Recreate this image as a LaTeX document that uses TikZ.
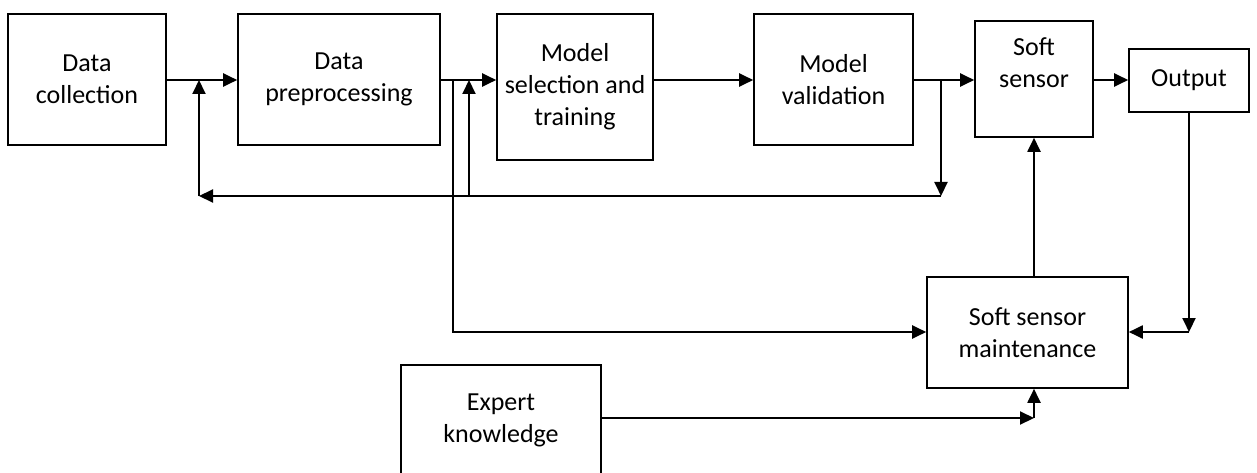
\documentclass[tikz,border=0pt]{standalone}
\usepackage{fontspec}
\setmainfont{Carlito}
\usetikzlibrary{arrows.meta}
\begin{document}
\begin{tikzpicture}[x=1pt,y=1pt,
  block/.style={draw, line width=1.6pt, align=center, inner sep=0pt,
    font=\fontsize{26}{32}\selectfont},
  link/.style={line width=2pt},
  arr/.style={link, -{Triangle[length=14pt,width=13pt]}}]
\useasboundingbox (0,0) rectangle (1257,-473);
\clip (0,0) rectangle (1257,-473);

% process chain
\node[block, minimum width=158, minimum height=131] (dc) at (87,-79.5) {Data\\collection};
\node[block, minimum width=202, minimum height=131] (dp) at (339,-79.5) {Data\\preprocessing};
\node[block, minimum width=156, minimum height=146] (ms) at (575,-87) {Model\\selection and\\training};
\node[block, minimum width=159, minimum height=131] (mv) at (833.5,-79.5) {Model\\validation};
\node[block, minimum width=118, minimum height=116] (ss) at (1034,-79) {Soft\\sensor\\\mbox{}};
\node[block, minimum width=120, minimum height=63] (out) at (1189,-80.5) {Output};
\node[block, minimum width=201, minimum height=111] (ssm) at (1027.5,-332.5) {Soft sensor\\maintenance};
\node[block, minimum width=200, minimum height=111] (ek) at (501,-420.5) {Expert\\knowledge};

% junction points of the feedback loops
\coordinate (f1) at (199,-80);
\coordinate (f1b) at (199,-196);
\coordinate (f2) at (469,-80);
\coordinate (f2b) at (469,-196);
\coordinate (f3) at (941,-80);
\coordinate (f3b) at (941,-196);
\coordinate (t1) at (453,-80);
\coordinate (t1b) at (453,-332);
\coordinate (o1) at (1189,-332);

% forward path
\draw[arr] (dc.east |- f1) -- (dp.west |- f1);
\draw[arr] (dp.east |- f1) -- (ms.west |- f1);
\draw[arr] (ms.east |- f1) -- (mv.west |- f1);
\draw[arr] (mv.east |- f1) -- (ss.west |- f1);
\draw[arr] (ss.east |- f1) -- (out.west |- f1);

% feedback loops
\draw[arr] (f3) -- (f3b);
\draw[arr] (f3b) -- (f1b);
\draw[arr] (f1b) -- (f1);
\draw[arr] (f2b) -- (f2);

% maintenance paths
\draw[arr] (t1) -- (t1b) -- (ssm.west |- t1b);
\draw[arr] (out.south) -- (o1);
\draw[arr] (o1) -- (ssm.east |- o1);
\draw[arr] (ssm.north -| ss.south) -- (ss.south);
\coordinate (e1) at (ss.south |- 0,-418);
\draw[arr] (ek.east |- e1) -- (e1);
\draw[arr] (e1) -- (ssm.south -| e1);
\end{tikzpicture}
\end{document}
